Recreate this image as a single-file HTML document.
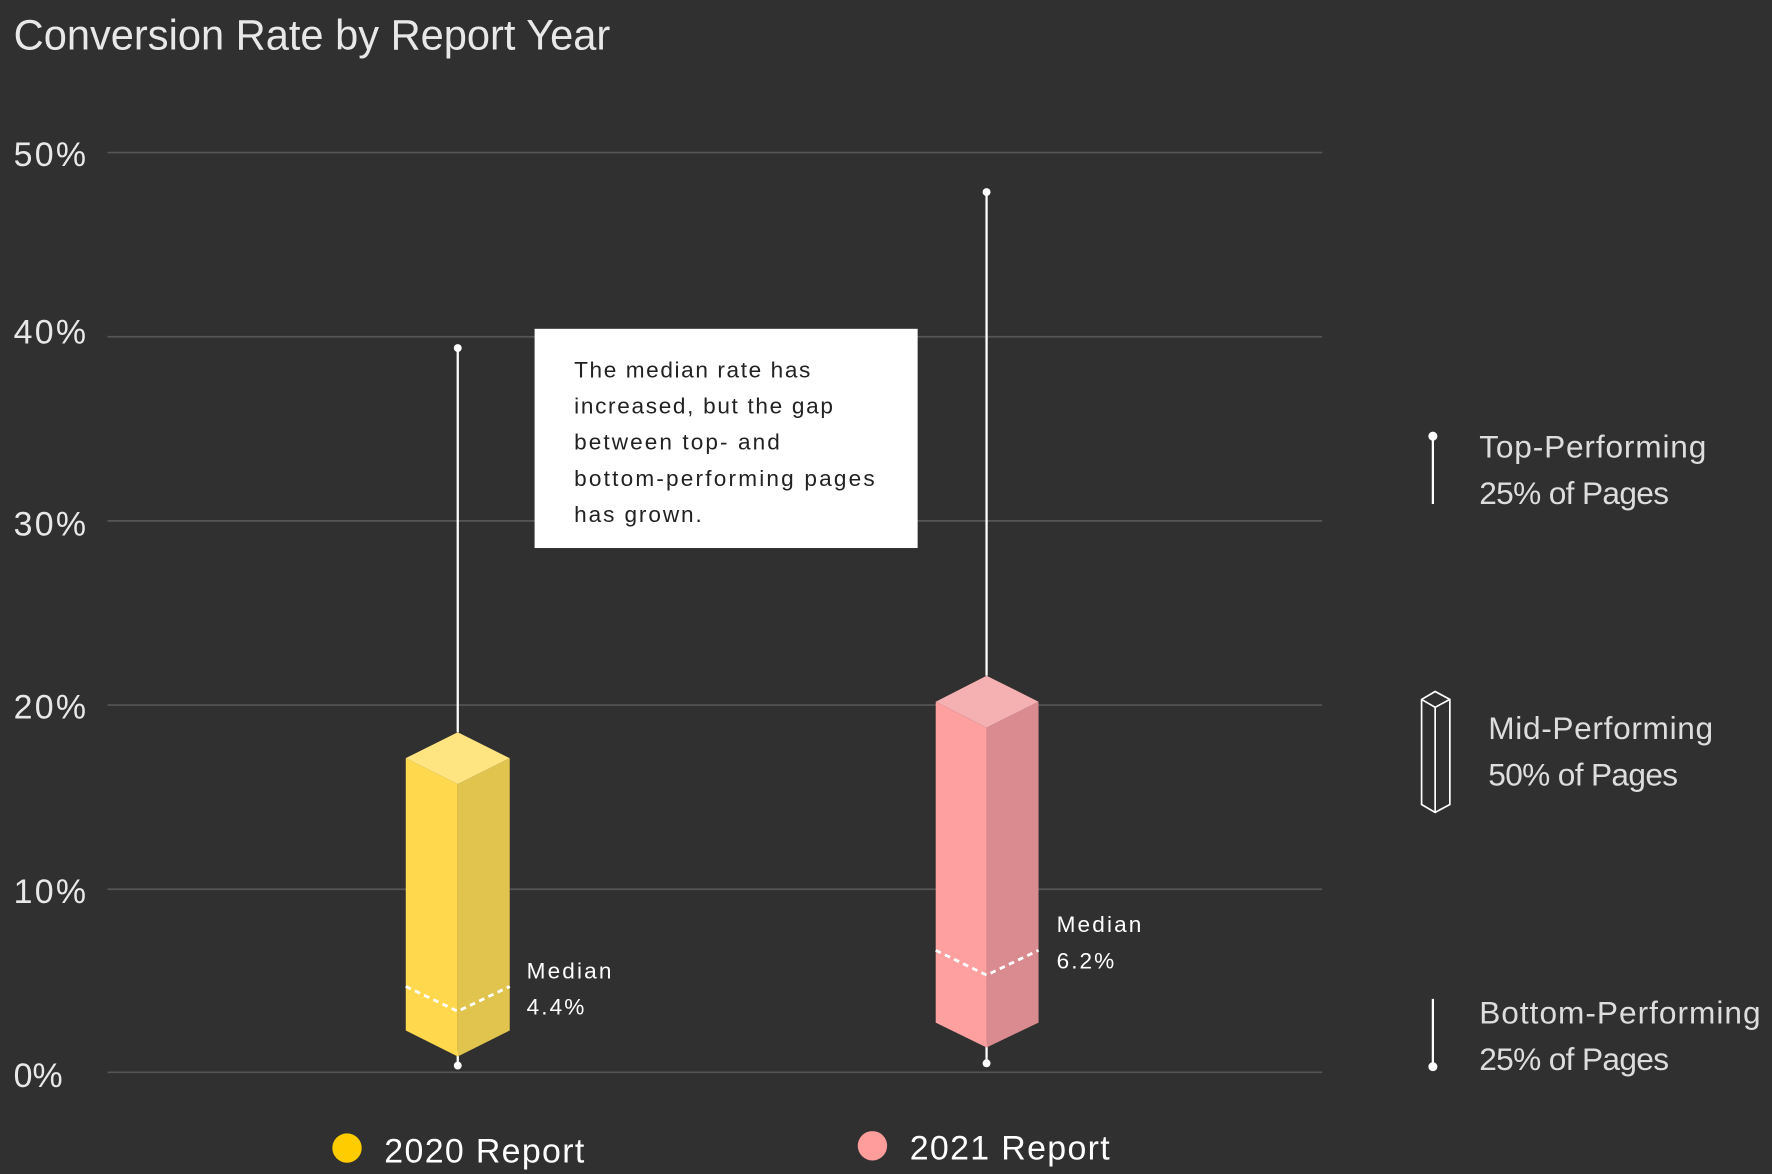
<!DOCTYPE html>
<html><head><meta charset="utf-8"><style>
html,body{margin:0;padding:0;background:#303030;}
svg{display:block;}
text{font-family:"Liberation Sans",sans-serif;}
</style></head><body>
<svg width="1772" height="1174" viewBox="0 0 1568 1039" xmlns="http://www.w3.org/2000/svg">
<rect width="1568" height="1039" fill="#303030"/>
<text x="12" y="44" font-size="38" fill="#e8e8e8" textLength="528" lengthAdjust="spacingAndGlyphs">Conversion Rate by Report Year</text>
<g stroke="#555" stroke-width="1.5">
<line x1="95" y1="135" x2="1170" y2="135"/><line x1="95" y1="298" x2="1170" y2="298"/>
<line x1="95" y1="461" x2="1170" y2="461"/><line x1="95" y1="624" x2="1170" y2="624"/>
<line x1="95" y1="787" x2="1170" y2="787"/><line x1="95" y1="949" x2="1170" y2="949"/>
</g>
<g font-size="30" fill="#e8e8e8">
<text x="12" y="147" textLength="64">50%</text><text x="12" y="304" textLength="64">40%</text><text x="12" y="474" textLength="64">30%</text>
<text x="12" y="636" textLength="64">20%</text><text x="12" y="799" textLength="64">10%</text><text x="12" y="962">0%</text>
</g>
<!-- 2020 -->
<line x1="405" y1="308" x2="405" y2="648" stroke="#fff" stroke-width="2"/>
<circle cx="405" cy="308" r="3.5" fill="#fff"/>
<line x1="405" y1="930" x2="405" y2="943" stroke="#fff" stroke-width="2"/>
<circle cx="405" cy="943" r="3.5" fill="#fff"/>
<polygon points="359,671 405,694 405,935 359,912" fill="#ffd84d"/>
<polygon points="405,694 451,671 451,912 405,935" fill="#e0c44e"/>
<polygon points="405,648 451,671 405,694 359,671" fill="#ffe482"/>
<polyline points="359,873 405,895 451,873" fill="none" stroke="#fff" stroke-width="2.5" stroke-dasharray="5,4"/>
<text x="466" y="866" font-size="20" fill="#fff" textLength="75">Median</text>
<text x="466" y="898" font-size="20" fill="#fff" textLength="51">4.4%</text>
<!-- 2021 -->
<line x1="873" y1="170" x2="873" y2="598" stroke="#fff" stroke-width="2"/>
<circle cx="873" cy="170" r="3.5" fill="#fff"/>
<line x1="873" y1="922" x2="873" y2="941" stroke="#fff" stroke-width="2"/>
<circle cx="873" cy="941" r="3.5" fill="#fff"/>
<polygon points="828,621 873,644 873,927 828,905" fill="#ffa0a0"/>
<polygon points="873,644 919,621 919,905 873,927" fill="#d98b8f"/>
<polygon points="873,598 919,621 873,644 828,621" fill="#f5b0b2"/>
<polyline points="828,841 873,863 919,841" fill="none" stroke="#fff" stroke-width="2.5" stroke-dasharray="5,4"/>
<text x="935" y="825" font-size="20" fill="#fff" textLength="75">Median</text>
<text x="935" y="857" font-size="20" fill="#fff" textLength="51">6.2%</text>
<!-- annotation -->
<rect x="473" y="291" width="339" height="194" fill="#fff"/>
<g font-size="20" fill="#222">
<text x="508" y="334" textLength="209">The median rate has</text>
<text x="508" y="366" textLength="229">increased, but the gap</text>
<text x="508" y="398" textLength="182">between top- and</text>
<text x="508" y="430" textLength="266">bottom-performing pages</text>
<text x="508" y="462" textLength="113">has grown.</text>
</g>
<!-- legend bottom -->
<circle cx="307" cy="1016" r="13" fill="#ffcc00"/>
<text x="340" y="1029" font-size="30" fill="#fff" textLength="177">2020 Report</text>
<circle cx="772" cy="1014" r="13" fill="#ff9d9d"/>
<text x="805" y="1026" font-size="30" fill="#fff" textLength="177">2021 Report</text>
<!-- right legend -->
<line x1="1268" y1="386" x2="1268" y2="446" stroke="#fff" stroke-width="2"/>
<circle cx="1268" cy="386" r="4" fill="#fff"/>
<g font-size="28" fill="#ddd">
<text x="1309" y="405" textLength="201">Top-Performing</text><text x="1309" y="446" textLength="168">25% of Pages</text>
<text x="1317" y="654" textLength="199">Mid-Performing</text><text x="1317" y="695" textLength="168">50% of Pages</text>
<text x="1309" y="906" textLength="249">Bottom-Performing</text><text x="1309" y="947" textLength="168">25% of Pages</text>
</g>
<g fill="none" stroke="#fff" stroke-width="1.5">
<polygon points="1258,619 1270,612 1283,619 1283,712 1270,719 1258,712"/>
<polyline points="1258,619 1270,626 1283,619"/>
<line x1="1270" y1="626" x2="1270" y2="719"/>
</g>
<line x1="1268" y1="884" x2="1268" y2="944" stroke="#fff" stroke-width="2"/>
<circle cx="1268" cy="944" r="4" fill="#fff"/>
</svg>
</body></html>
